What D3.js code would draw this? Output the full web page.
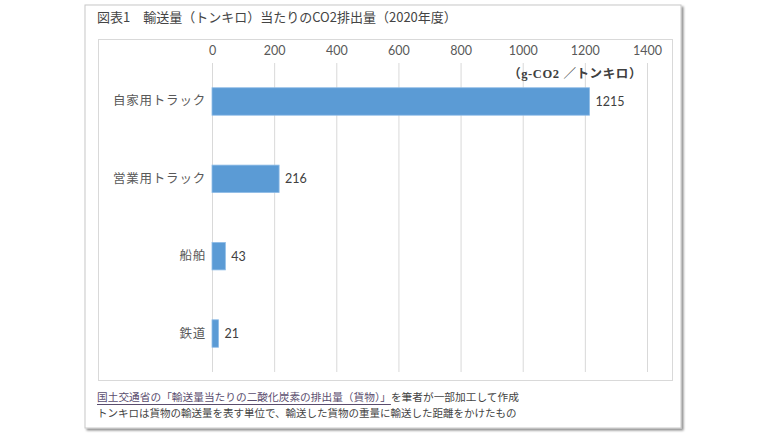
<!DOCTYPE html>
<html><head><meta charset="utf-8">
<script src="https://cdn.jsdelivr.net/npm/d3@7"></script>
<style>body{margin:0;background:#fff;}svg{display:block;font-family:"Noto Sans CJK JP","Noto Sans",sans-serif;}</style>
</head><body>
<svg id="c" width="770" height="440"></svg>
<script>
const categories = ["自家用トラック", "営業用トラック", "船舶", "鉄道"];
const values = [1215, 216, 43, 21];
const tickValues = [0, 200, 400, 600, 800, 1000, 1200, 1400];
const title = "図表1　輸送量（トンキロ）当たりのCO2排出量（2020年度）";
const unitLabel = "（g-CO2 ／トンキロ）";
const sourceLink = "国土交通省の「輸送量当たりの二酸化炭素の排出量（貨物）」";
const sourceRest = "を筆者が一部加工して作成";
const note = "トンキロは貨物の輸送量を表す単位で、輸送した貨物の重量に輸送した距離をかけたもの";

const svg = d3.select("#c");
const defs = svg.append("defs");
const f = defs.append("filter").attr("id","sh").attr("x","-5%").attr("y","-5%").attr("width","110%").attr("height","110%");
f.append("feDropShadow").attr("dx",2).attr("dy",2).attr("stdDeviation",1.2).attr("flood-color","#000").attr("flood-opacity",0.45);

// outer frame
svg.append("rect").attr("x",85).attr("y",5).attr("width",596).attr("height",423)
  .attr("fill","#fff").attr("stroke","#c8c8c8").attr("stroke-width",1).attr("filter","url(#sh)");

svg.append("text").attr("x",97).attr("y",22).attr("font-size",13).attr("fill","#444").text(title);

// inner chart box
svg.append("rect").attr("x",98.5).attr("y",39.5).attr("width",574).attr("height",341)
  .attr("fill","#fff").attr("stroke","#d9d9d9");

const x = d3.scaleLinear().domain([0,1400]).range([212,647]);
const y = d3.scaleBand().domain(categories).range([63,372]).paddingInner(0.645).paddingOuter(0.32);

// grid lines
svg.append("g").selectAll("line").data(tickValues).join("line")
  .attr("x1",d=>x(d)+0.5).attr("x2",d=>x(d)+0.5).attr("y1",63).attr("y2",372)
  .attr("stroke","#d9d9d9");

// top axis labels
const ax = svg.append("g").attr("transform","translate(0,55)")
  .call(d3.axisTop(x).tickValues(tickValues).tickFormat(d3.format("d")).tickSize(0).tickPadding(0));
ax.select(".domain").remove();
ax.selectAll("text").attr("font-size",12.5).attr("fill","#595959").attr("font-family","Lato, 'Noto Sans', sans-serif");

svg.append("text").attr("x",642).attr("y",78).attr("text-anchor","end").attr("font-size",12.5)
  .attr("font-weight","bold").attr("fill","#404040").attr("letter-spacing","0.6px").attr("font-family","'Liberation Serif','Noto Sans CJK JP',serif").text(unitLabel);

// bars
const data = categories.map((c,i)=>({c, v:values[i]}));
svg.append("g").selectAll("rect").data(data).join("rect")
  .attr("x",x(0)).attr("y",d=>y(d.c)).attr("width",d=>x(d.v)-x(0)).attr("height",y.bandwidth())
  .attr("fill","#5b9bd5").attr("stroke","#8fbce6").attr("stroke-width",0.8);

// value labels
svg.append("g").selectAll("text").data(data).join("text")
  .attr("x",d=>x(d.v)+6).attr("y",d=>y(d.c)+y.bandwidth()/2).attr("dy","0.35em")
  .attr("font-size",12.5).attr("fill","#404040").attr("font-family","Lato, 'Noto Sans', sans-serif").text(d=>d.v);

// category labels
const yAx = svg.append("g").attr("transform","translate(206,0)")
  .call(d3.axisLeft(y).tickSize(0).tickPadding(0));
yAx.select(".domain").remove();
yAx.selectAll("text").attr("font-size",12.5).attr("fill","#595959").attr("letter-spacing","0.8px")
  .attr("font-family","'Noto Sans CJK JP',sans-serif");

// footnotes
const t1 = svg.append("text").attr("x",97).attr("y",401).attr("font-size",10.7).attr("fill","#444");
t1.append("tspan").attr("fill","#5a4d6e").text(sourceLink);
t1.append("tspan").text(sourceRest);
const linkW = t1.select("tspan").node().getComputedTextLength();
svg.append("line").attr("x1",97).attr("x2",97+linkW).attr("y1",404.5).attr("y2",404.5).attr("stroke","#5a4d6e").attr("stroke-width",1);
svg.append("text").attr("x",97).attr("y",417).attr("font-size",10.5).attr("fill","#444").text(note);
</script>
</body></html>
